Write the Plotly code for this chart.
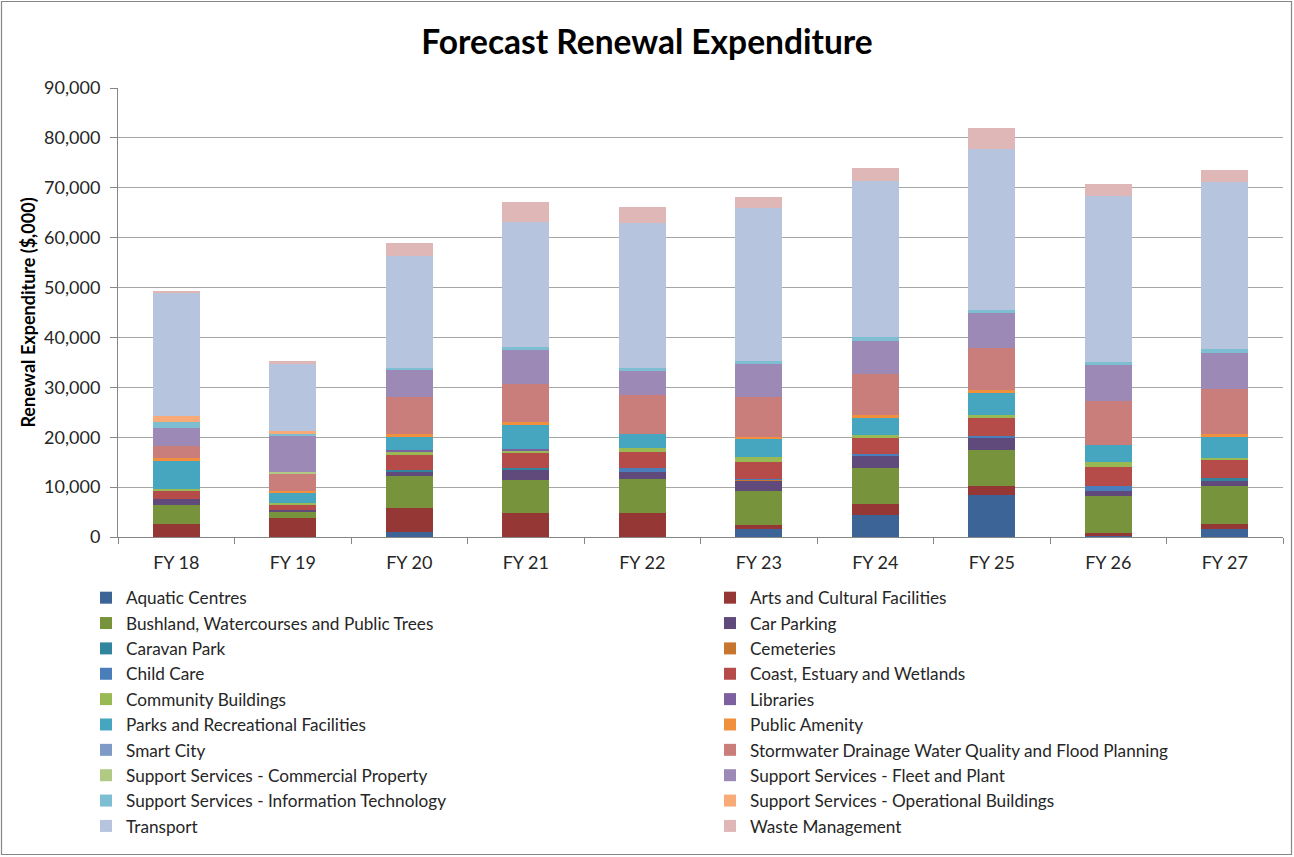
import plotly.graph_objects as go

years = ["FY 18", "FY 19", "FY 20", "FY 21", "FY 22", "FY 23", "FY 24", "FY 25", "FY 26", "FY 27"]

# Renewal expenditure by asset class, $'000
aquatic_centres = [0, 0, 1000, 0, 0, 1540, 4470, 8350, 200, 1540]
arts_cultural = [2670, 3870, 4870, 4870, 4870, 800, 2200, 1800, 530, 1000]
bushland = [3670, 1130, 6280, 6480, 6680, 6810, 7210, 7280, 7480, 7620]
car_parking = [1200, 470, 940, 2000, 1400, 2200, 2540, 2400, 940, 1000]
caravan_park = [0, 0, 270, 400, 0, 0, 0, 0, 0, 600]
cemeteries = [0, 0, 0, 0, 0, 130, 0, 0, 0, 0]
child_care = [0, 0, 0, 0, 800, 200, 200, 400, 1000, 0]
coast_estuary = [1800, 870, 3070, 3070, 3200, 3340, 3340, 3540, 3810, 3740]
community_buildings = [300, 400, 530, 400, 800, 1000, 400, 730, 1130, 400]
libraries = [0, 0, 400, 470, 0, 0, 0, 0, 0, 0]
parks_recreation = [5550, 2000, 2800, 4870, 2800, 3540, 3540, 4280, 3270, 4340]
public_amenity = [600, 470, 400, 400, 0, 400, 470, 670, 0, 400]
smart_city = [0, 0, 0, 0, 0, 0, 0, 0, 0, 0]
stormwater = [2400, 3540, 7480, 7620, 7820, 8020, 8350, 8420, 8890, 8950]
commercial_property = [0, 270, 0, 0, 0, 0, 0, 0, 0, 0]
fleet_plant = [3740, 7150, 5340, 6950, 4810, 6610, 6540, 6950, 7150, 7350]
information_technology = [1130, 600, 530, 600, 600, 600, 800, 600, 600, 670]
operational_buildings = [1200, 400, 0, 0, 0, 0, 0, 0, 0, 0]
transport = [24770, 13690, 22440, 24980, 29120, 30790, 31390, 32400, 33400, 33530]
waste_management = [300, 330, 2600, 4140, 3340, 2270, 2470, 4140, 2340, 2340]

series_names = [
    "Aquatic Centres", "Arts and Cultural Facilities",
    "Bushland, Watercourses and Public Trees", "Car Parking",
    "Caravan Park", "Cemeteries",
    "Child Care", "Coast, Estuary and Wetlands",
    "Community Buildings", "Libraries",
    "Parks and Recreational Facilities", "Public Amenity",
    "Smart City", "Stormwater Drainage Water Quality and Flood Planning",
    "Support Services - Commercial Property", "Support Services - Fleet and Plant",
    "Support Services - Information Technology", "Support Services - Operational Buildings",
    "Transport", "Waste Management",
]
series_values = [
    aquatic_centres, arts_cultural, bushland, car_parking, caravan_park, cemeteries,
    child_care, coast_estuary, community_buildings, libraries, parks_recreation,
    public_amenity, smart_city, stormwater, commercial_property, fleet_plant,
    information_technology, operational_buildings, transport, waste_management,
]
series_colors = [
    "#3C6496", "#953735", "#77933C", "#604A7B", "#31859C", "#C6762F",
    "#4A7EBB", "#B64C49", "#98B954", "#7D60A0", "#46A5BF", "#F08F3D",
    "#7E9BC8", "#CA7E7C", "#B0CA83", "#9C89B5", "#7DBED2", "#F8AB78",
    "#B6C4DE", "#DFB7B7",
]

FONT = "Lato, Calibri, sans-serif"

fig = go.Figure()
for i, (name, vals, color) in enumerate(zip(series_names, series_values, series_colors)):
    # legend laid out in two columns: left column gets the even entries
    fig.add_trace(go.Bar(
        name=name, x=years, y=vals,
        marker=dict(color=color, line=dict(width=0)),
        legend="legend" if i % 2 == 0 else "legend2",
    ))

# plot area geometry in pixels
W, H = 1294, 857
L, R, T, B = 118, 11, 88, 320
pw, ph = W - L - R, H - T - B
y_base = T + ph  # pixel row of the x axis

legend_style = dict(
    orientation="v", traceorder="normal",
    y=-(580 - y_base) / ph, yanchor="top", xanchor="left",
    font=dict(family=FONT, size=17.2, color="#262626"),
    bgcolor="rgba(0,0,0,0)",
)

fig.update_layout(
    width=W, height=H,
    barmode="stack", bargap=0.6,
    margin=dict(l=L, r=R, t=T, b=B),
    paper_bgcolor="white", plot_bgcolor="white",
    font=dict(family=FONT, size=18, color="#262626"),
    title=dict(
        text="<b>Forecast Renewal Expenditure</b>",
        x=0.5, xanchor="center", y=1 - 42 / H, yanchor="middle",
        font=dict(family=FONT, size=33.5, color="#000000"),
    ),
    xaxis=dict(
        type="category", showgrid=False,
        showline=True, linecolor="#868686", linewidth=1,
        ticks="outside", tickson="boundaries", ticklen=6, tickcolor="#868686",
        tickfont=dict(size=18, color="#262626"), ticklabelstandoff=9,
    ),
    yaxis=dict(
        range=[0, 90000], dtick=10000, tickformat=",d",
        showgrid=True, gridcolor="#A6A6A6", gridwidth=1,
        showline=True, linecolor="#868686", linewidth=1,
        ticks="outside", ticklen=7, tickcolor="#868686",
        tickfont=dict(size=18, color="#262626"), ticklabelstandoff=6,
        zeroline=False,
        title=dict(text="<b>Renewal Expenditure ($,000)</b>",
                   font=dict(size=18, color="#000000"), standoff=3),
    ),
    legend=dict(legend_style, x=(86 - L) / pw),
    legend2=dict(legend_style, x=(710 - L) / pw),
    shapes=[dict(
        type="rect", xref="paper", yref="paper",
        x0=(1.5 - L) / pw, x1=(W - 2.5 - L) / pw,
        y0=-(H - 2.5 - y_base) / ph, y1=(y_base - 1.5) / ph,
        line=dict(color="#868686", width=1.2), fillcolor="rgba(0,0,0,0)",
    )],
)

fig.write_html("out.html")
